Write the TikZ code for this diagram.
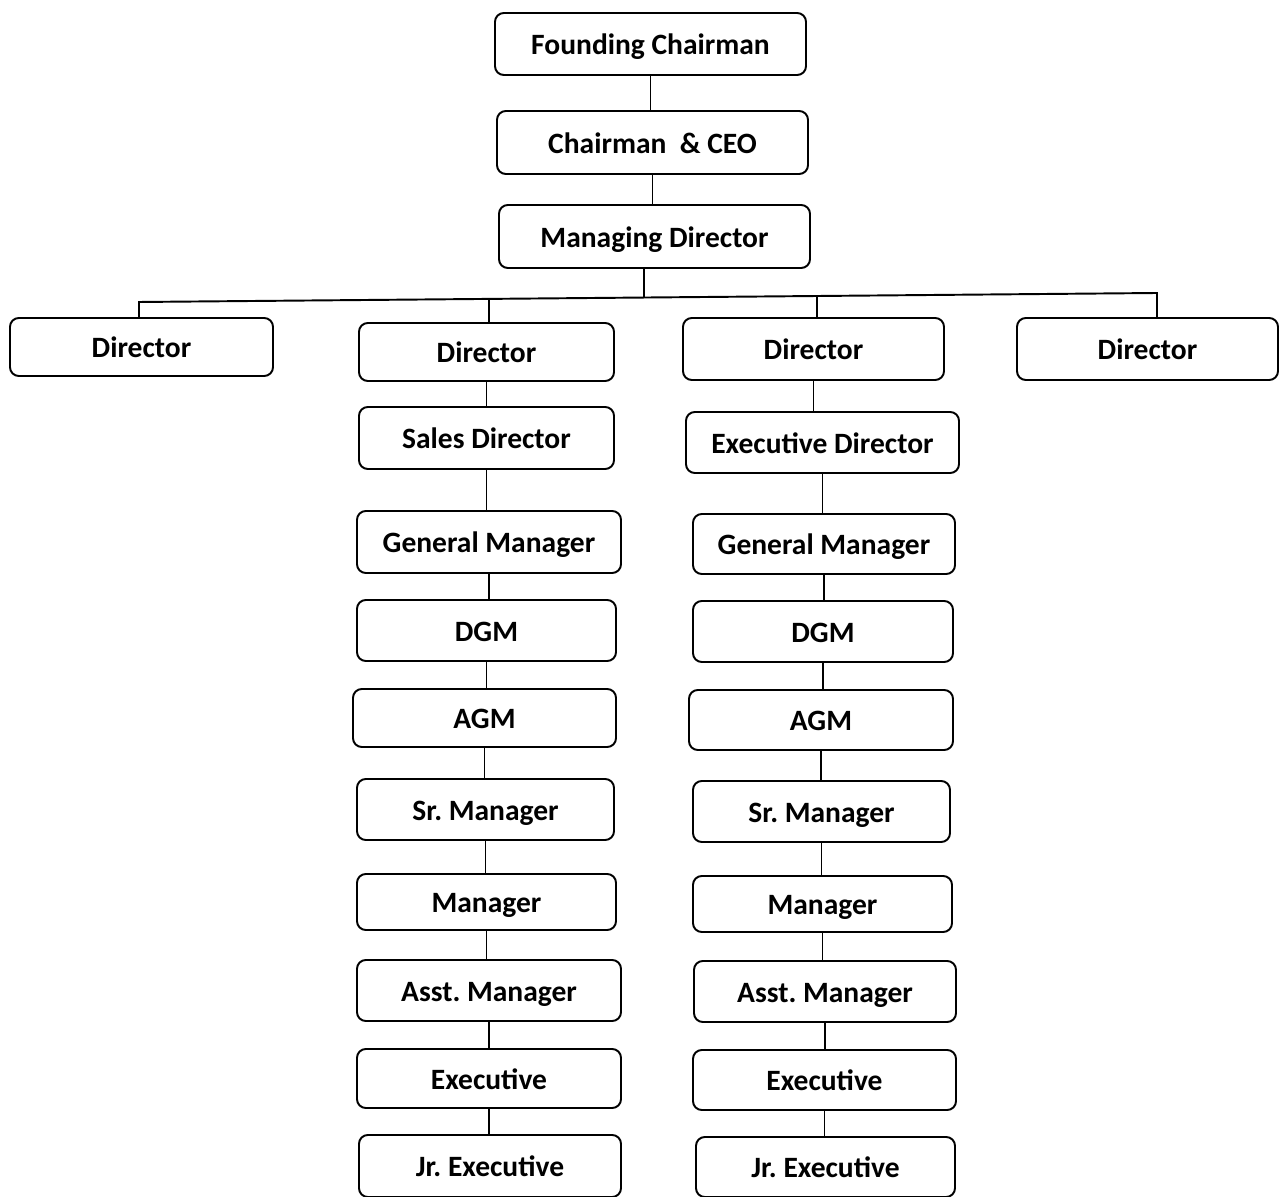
\documentclass[tikz,border=0pt]{standalone}
\usepackage{fontspec}
\setmainfont{Carlito}
\frenchspacing
\tikzset{
  post/.style={draw, line width=1.1pt, rounded corners=5pt, inner sep=0pt,
    text height=12.5pt, text depth=0pt,
    font=\fontsize{16.8}{20}\selectfont\bfseries},
  link/.style={line width=1.1pt}
}
\begin{document}
\begin{tikzpicture}
                \useasboundingbox (0,0) rectangle (25.62,-23.94);
                
                % Drawing top posts
                \node [post, minimum width=6.22cm, minimum height=1.24cm] (fc) at (13.01,-0.88) {Founding Chairman};
                \node [post, minimum width=6.22cm, minimum height=1.26cm] (ceo) at (13.05,-2.85) {Chairman \ \& CEO};
                \node [post, minimum width=6.22cm, minimum height=1.26cm] (md) at (13.09,-4.73) {Managing Director};
                
                % Drawing directors
                \node [post, minimum width=5.26cm, minimum height=1.16cm] (dA) at (2.83,-6.94) {Director};
                \node [post, minimum width=5.10cm, minimum height=1.16cm] (dB) at (9.73,-7.04) {Director};
                \node [post, minimum width=5.22cm, minimum height=1.24cm] (dC) at (16.27,-6.98) {Director};
                \node [post, minimum width=5.22cm, minimum height=1.24cm] (dD) at (22.95,-6.98) {Director};
                
                % Drawing left column
                \node [post, minimum width=5.10cm, minimum height=1.24cm] (sdB) at (9.73,-8.76) {Sales Director};
                \node [post, minimum width=5.28cm, minimum height=1.24cm] (gmB) at (9.78,-10.84) {General Manager};
                \node [post, minimum width=5.18cm, minimum height=1.22cm] (dgmB) at (9.73,-12.61) {DGM};
                \node [post, minimum width=5.26cm, minimum height=1.16cm] (agmB) at (9.69,-14.36) {AGM};
                \node [post, minimum width=5.14cm, minimum height=1.22cm] (smB) at (9.71,-16.19) {Sr. Manager};
                \node [post, minimum width=5.18cm, minimum height=1.12cm] (mB) at (9.73,-18.04) {Manager};
                \node [post, minimum width=5.28cm, minimum height=1.22cm] (amB) at (9.78,-19.81) {Asst. Manager};
                \node [post, minimum width=5.28cm, minimum height=1.18cm] (exB) at (9.78,-21.57) {Executive};
                \node [post, minimum width=5.24cm, minimum height=1.24cm] (jxB) at (9.80,-23.32) {Jr. Executive};
                
                % Drawing right column
                \node [post, minimum width=5.46cm, minimum height=1.22cm] (edC) at (16.45,-8.85) {Executive Director};
                \node [post, minimum width=5.24cm, minimum height=1.20cm] (gmC) at (16.48,-10.88) {General Manager};
                \node [post, minimum width=5.20cm, minimum height=1.22cm] (dgmC) at (16.46,-12.63) {DGM};
                \node [post, minimum width=5.28cm, minimum height=1.20cm] (agmC) at (16.42,-14.40) {AGM};
                \node [post, minimum width=5.14cm, minimum height=1.22cm] (smC) at (16.43,-16.23) {Sr. Manager};
                \node [post, minimum width=5.18cm, minimum height=1.12cm] (mC) at (16.45,-18.08) {Manager};
                \node [post, minimum width=5.24cm, minimum height=1.22cm] (amC) at (16.50,-19.83) {Asst. Manager};
                \node [post, minimum width=5.26cm, minimum height=1.20cm] (exC) at (16.49,-21.60) {Executive};
                \node [post, minimum width=5.18cm, minimum height=1.20cm] (jxC) at (16.51,-23.34) {Jr. Executive};
                
                % Drawing top links
                \draw [link] (fc.south) -- (fc.south |- ceo.north);
                \draw [link] (ceo.south) -- (ceo.south |- md.north);
                
                % Drawing bus to directors
                \coordinate (bA) at (2.78,-6.04);
                \coordinate (bM) at (12.88,-5.96);
                \coordinate (bD) at (23.14,-5.86);
                \draw [link] (md.south -| bM) -- (bM);
                \draw [link] (bA |- dA.north) -- (bA) -- (bD) -- (bD |- dD.north);
                \draw [link] (9.78,-6.00) -- (9.78,-6.00 |- dB.north);
                \draw [link] (16.34,-5.93) -- (16.34,-5.93 |- dC.north);
                
                % Drawing left column links
                \foreach \a/\b in {dB/sdB, sdB/gmB, gmB/dgmB, dgmB/agmB, agmB/smB, smB/mB, mB/amB, amB/exB, exB/jxB}
                  \draw [link] (\a.south) -- (\a.south |- \b.north);
                
                % Drawing right column links
                \foreach \a/\b in {dC/edC, edC/gmC, gmC/dgmC, dgmC/agmC, agmC/smC, smC/mC, mC/amC, amC/exC, exC/jxC}
                  \draw [link] (\a.south) -- (\a.south |- \b.north);
                
\end{tikzpicture}
\end{document}
